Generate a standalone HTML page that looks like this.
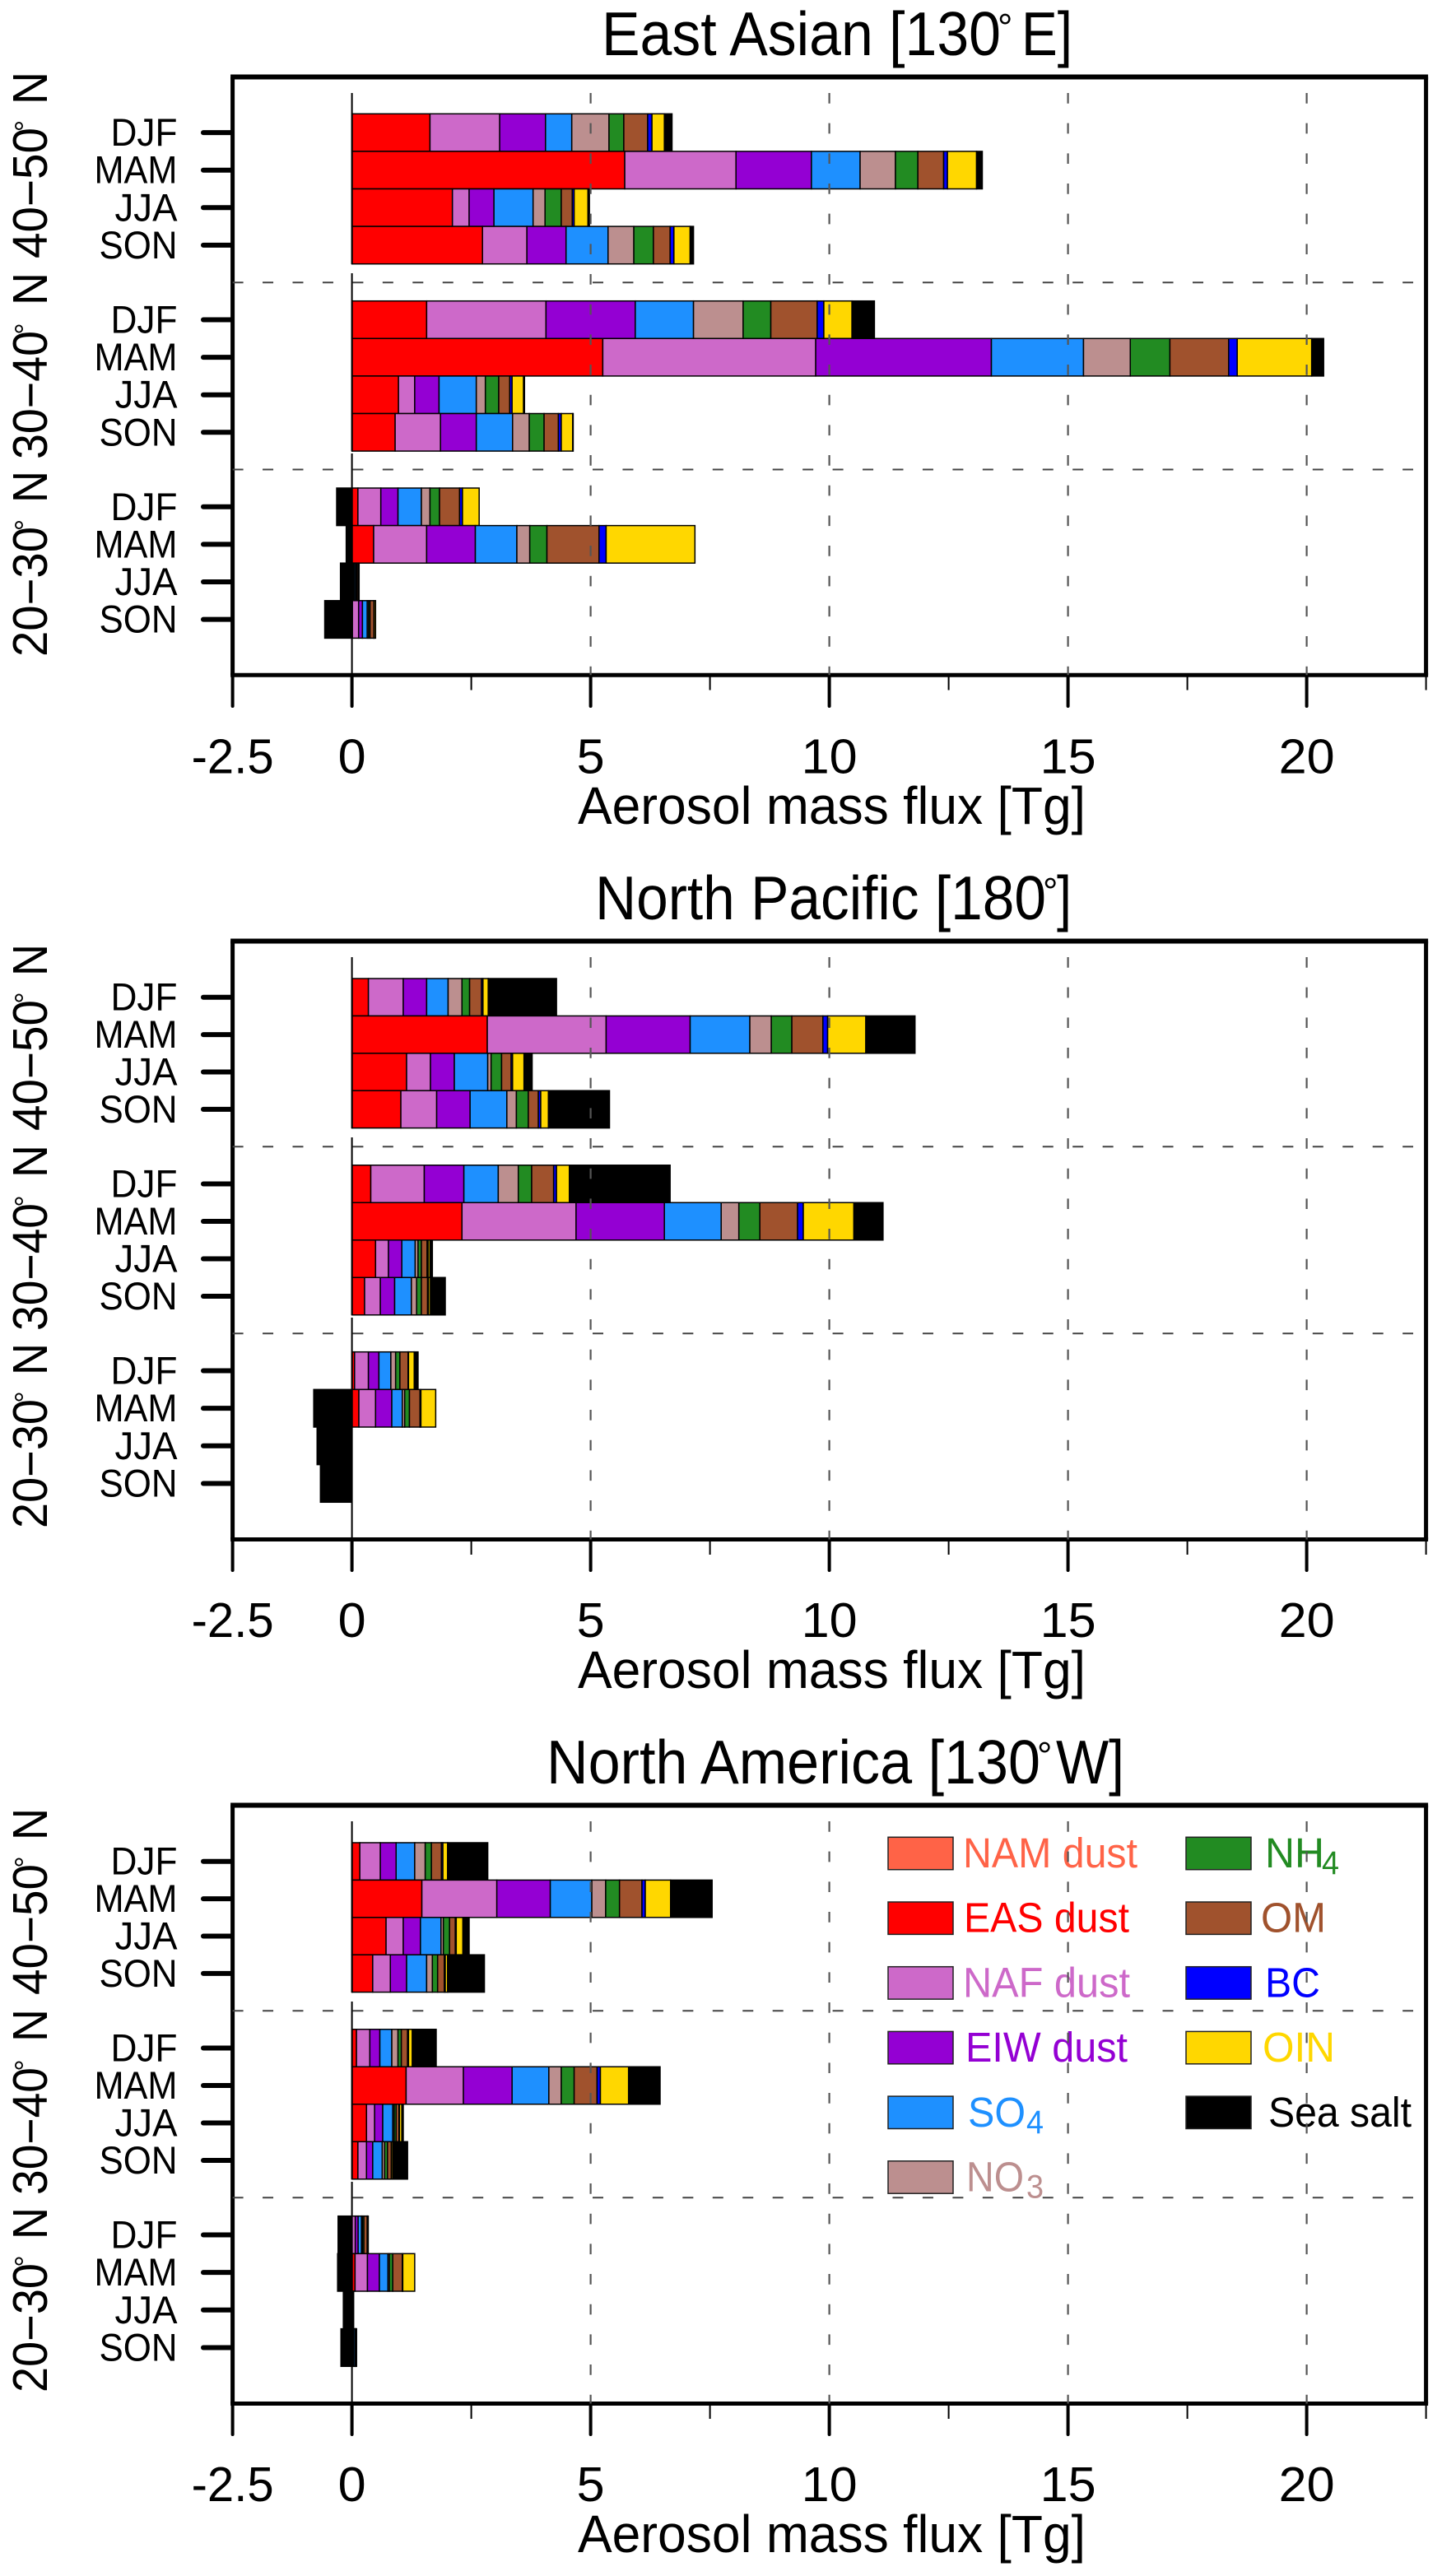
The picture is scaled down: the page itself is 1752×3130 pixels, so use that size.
<!DOCTYPE html>
<html lang="en">
<head>
<meta charset="utf-8">
<title>Aerosol mass flux</title>
<style>
html,body{margin:0;padding:0;background:#fff;width:1752px;height:3130px;overflow:hidden}
svg{display:block}
text{font-family:"Liberation Sans",Arial,sans-serif;fill:#000}
</style>
</head>
<body>
<svg id="figure" xmlns="http://www.w3.org/2000/svg" width="1752" height="3130" viewBox="0 0 1752 3130">
  <rect width="1752" height="3130" fill="#fff"/>
  <text font-size="75"><tspan x="731" y="67" textLength="485" lengthAdjust="spacingAndGlyphs">East Asian [130</tspan><tspan x="1212" y="49" font-size="46">°</tspan><tspan x="1241" y="67" textLength="62" lengthAdjust="spacingAndGlyphs">E]</tspan></text>
  <text font-size="75"><tspan x="723" y="1117" textLength="548" lengthAdjust="spacingAndGlyphs">North Pacific [180</tspan><tspan x="1267" y="1099" font-size="46">°</tspan><tspan x="1284" y="1117" textLength="18" lengthAdjust="spacingAndGlyphs">]</tspan></text>
  <text font-size="75"><tspan x="664" y="2167" textLength="600" lengthAdjust="spacingAndGlyphs">North America [130</tspan><tspan x="1260" y="2149" font-size="46">°</tspan><tspan x="1283" y="2167" textLength="83" lengthAdjust="spacingAndGlyphs">W]</tspan></text>
  <g id="panels"></g>
  <g id="overlays"></g>
</svg>
<script>
const categories = ['DJF', 'MAM', 'JJA', 'SON'];
const latitudeBands = ['40\u221250', '30\u221240', '20\u221230'];
const xMajorTicks = [-2.5, 0, 5, 10, 15, 20];
const xTickLabels = ['-2.5', '0', '5', '10', '15', '20'];
const xMinorTicks = [2.5, 7.5, 12.5, 17.5, 22.5];
const xGridValues = [5, 10, 15, 20];
const speciesNames = ['NAM dust', 'EAS dust', 'NAF dust', 'EIW dust', 'SO4', 'NO3', 'NH4', 'OM', 'BC', 'OIN', 'Sea salt'];
const speciesColors = ['#FF6347', '#FF0000', '#CD69C9', '#9400D3', '#1E90FF', '#BC8F8F', '#228B22', '#A0522D', '#0000FF', '#FFD700', '#000000'];

/* Each series: 40-50 DJF,MAM,JJA,SON | 30-40 DJF,MAM,JJA,SON | 20-30 DJF,MAM,JJA,SON (Tg) */
const eastAsianNAM = [.005,.005,.005,.005, .005,.005,.005,.005, .005,.005,.005,.005];
const eastAsianEAS = [1.63,5.71,2.10,2.73, 1.56,5.25,.97,.90, .12,.45,.01,.005];
const eastAsianNAF = [1.46,2.33,.35,.93, 2.50,4.46,.34,.95, .48,1.11,.02,.13];
const eastAsianEIW = [.96,1.58,.52,.82, 1.87,3.68,.51,.75, .36,1.02,.01,.08];
const eastAsianSO4 = [.55,1.02,.82,.88, 1.22,1.93,.78,.76, .49,.87,.03,.10];
const eastAsianNO3 = [.78,.74,.25,.54, 1.04,.98,.19,.35, .18,.27,.01,.03];
const eastAsianNH4 = [.31,.47,.34,.41, .58,.83,.28,.31, .20,.36,.02,.03];
const eastAsianOM = [.50,.54,.23,.35, .97,1.23,.23,.30, .42,1.09,.03,.08];
const eastAsianBC = [.09,.08,.04,.08, .14,.18,.05,.06, .06,.15,.005,.005];
const eastAsianOIN = [.26,.61,.29,.34, .59,1.56,.24,.24, .35,1.86,.01,.03];
const eastAsianSeaSalt = [.16,.12,.03,.07, .47,.25,.02,.01, -.32,-.12,-.24,-.57];

const pacificNAM = [.005,.005,.005,.005, .005,.005,.005,.005, .005,.005,0,0];
const pacificEAS = [.34,2.83,1.14,1.02, .39,2.30,.49,.26, .05,.14,0,0];
const pacificNAF = [.73,2.49,.50,.75, 1.12,2.39,.27,.33, .29,.35,0,0];
const pacificEIW = [.49,1.76,.50,.70, .83,1.85,.28,.30, .22,.34,0,0];
const pacificSO4 = [.45,1.25,.70,.77, .72,1.19,.28,.35, .25,.22,0,0];
const pacificNO3 = [.29,.45,.07,.20, .42,.37,.06,.11, .10,.05,0,0];
const pacificNH4 = [.16,.43,.22,.25, .28,.44,.07,.10, .09,.10,0,0];
const pacificOM = [.25,.65,.20,.21, .46,.79,.12,.13, .17,.22,0,0];
const pacificBC = [.03,.10,.03,.05, .06,.12,.02,.02, .01,.02,0,0];
const pacificOIN = [.11,.80,.24,.16, .27,1.06,.04,.04, .12,.31,0,0];
const pacificSeaSalt = [1.43,1.03,.17,1.28, 2.11,.61,.05,.31, .08,-.80,-.73,-.66];

const americaNAM = [.005,.005,.005,.005, .005,.005,.005,.005, 0,.005,0,0];
const americaEAS = [.16,1.46,.71,.43, .09,1.13,.30,.12, 0,.06,.005,.01];
const americaNAF = [.43,1.57,.36,.37, .28,1.20,.17,.18, .07,.26,.005,.01];
const americaEIW = [.33,1.12,.36,.34, .21,1.02,.17,.13, .06,.25,.005,.01];
const americaSO4 = [.39,.87,.43,.42, .25,.77,.21,.20, .07,.18,.005,.03];
const americaNO3 = [.22,.29,.05,.12, .13,.26,.03,.05, .02,.03,.003,.005];
const americaNH4 = [.13,.29,.13,.11, .07,.27,.04,.06, .03,.07,.003,.01];
const americaOM = [.21,.47,.12,.14, .13,.48,.06,.08, .07,.20,.005,.01];
const americaBC = [.03,.07,.02,.02, .02,.07,.01,.01, .002,.01,.001,.002];
const americaOIN = [.10,.53,.14,.05, .08,.59,.05,.03, .02,.25,.003,.01];
const americaSeaSalt = [.84,.87,.13,.77, .50,.66,.03,.30, -.29,-.30,-.18,-.23];

const NS = 'http://www.w3.org/2000/svg';
const X0 = 427.6;
const X_UNIT = 58;
const xScale = v => X0 + v * X_UNIT;

const panelLayouts = [
  { slug: 'east-asian', series: [eastAsianNAM, eastAsianEAS, eastAsianNAF, eastAsianEIW, eastAsianSO4, eastAsianNO3, eastAsianNH4, eastAsianOM, eastAsianBC, eastAsianOIN, eastAsianSeaSalt],
    top: 93.5, bottom: 820.2, gridTop: 113, tickMinor: 838.5, tickMajor: 858, labelBase: 939.5, labelSize: 59, titleBase: 1001,
    groupFirst: [161.1, 388.5, 615.8], groupStep: [45.6, 45.6, 45.6], dashY: [343.3, 570.5],
    zero: [[113, 321], [332, 548], [551, 820]],
    bands: [[312, 157, 151, 123, 89], [556, 404, 397.5, 367, 333], [796, 642, 636, 607, 574]] },
  { slug: 'north-pacific', series: [pacificNAM, pacificEAS, pacificNAF, pacificEIW, pacificSO4, pacificNO3, pacificNH4, pacificOM, pacificBC, pacificOIN, pacificSeaSalt],
    top: 1143.5, bottom: 1870.5, gridTop: 1163, tickMinor: 1889, tickMajor: 1908, labelBase: 1989, labelSize: 59, titleBase: 2051,
    groupFirst: [1211.7, 1438.5, 1665.5], groupStep: [45.4, 45.5, 45.65], dashY: [1393.3, 1620.3],
    zero: [[1163, 1371], [1382, 1598], [1601, 1870]],
    bands: [[1372, 1217, 1210.5, 1182, 1149], [1615, 1464, 1457.5, 1427, 1393], [1855, 1702, 1695.5, 1667, 1634]] },
  { slug: 'north-america', series: [americaNAM, americaEAS, americaNAF, americaEIW, americaSO4, americaNO3, americaNH4, americaOM, americaBC, americaOIN, americaSeaSalt],
    top: 2193.5, bottom: 2920.5, gridTop: 2213, tickMinor: 2939, tickMajor: 2958, labelBase: 3039, labelSize: 59, titleBase: 3101,
    groupFirst: [2261.7, 2488.5, 2715.5], groupStep: [45.4, 45.5, 45.65], dashY: [2443.3, 2670.3],
    zero: [[2213, 2421], [2432, 2648], [2651, 2920]],
    bands: [[2422, 2267, 2260.5, 2232, 2199], [2665, 2514, 2507.5, 2477, 2443], [2905, 2752, 2745.5, 2717, 2684]] }
];

const seasonWidths = { DJF: 81, MAM: 101, JJA: 76, SON: 95 };

function svgEl(tag, attrs, parent, text) {
  const node = document.createElementNS(NS, tag);
  for (const k in attrs) node.setAttribute(k, attrs[k]);
  if (text !== undefined) node.textContent = text;
  parent.appendChild(node);
  return node;
}

const panelsRoot = document.getElementById('panels');
const overlayRoot = document.getElementById('overlays');

panelLayouts.forEach(p => {
  const g = svgEl('g', {}, panelsRoot);
  
  

  /* stacked bars */
  const barLayer = svgEl('g', {}, g);
  
  
  latitudeBands.forEach((band, b) => {
    categories.forEach((cat, c) => {
      const row = b * 4 + c;
      const cy = p.groupFirst[b] + c * p.groupStep[b];
      const h = p.groupStep[b];
      let pos = 0;
      let neg = 0;
      p.series.forEach((vals, s) => {
        const v = vals[row];
        let from;
        let to;
        if (v >= 0) { from = pos; to = pos + v; pos = to; }
        else { from = neg + v; to = neg; neg = from; }
        const rect = svgEl('rect', {
          x: xScale(from).toFixed(2),
          y: (cy - h / 2).toFixed(2),
          width: (xScale(to) - xScale(from)).toFixed(2),
          height: h.toFixed(2),
          fill: speciesColors[s],
          stroke: '#000',
          'stroke-width': 1.5
        }, barLayer);
        
        
      });
    });
  });

  /* zero line */
  p.zero.forEach(seg => {
    const z = svgEl('line', { x1: X0, x2: X0, y1: seg[0], y2: seg[1], stroke: '#000', 'stroke-width': 2 }, g);
    
    
  });

  /* frame */
  const frameLeft = xScale(-2.5);
  const frameRight = xScale(22.5);
  const sides = [
    [frameLeft - 2.5, p.top, frameRight + 2.5, p.top, 6],
    [frameLeft - 2.5, p.bottom, frameRight + 2.5, p.bottom, 5],
    [frameLeft, p.top, frameLeft, p.bottom, 5],
    [frameRight, p.top, frameRight, p.bottom, 5]
  ];
  sides.forEach(s => {
    const side = svgEl('line', { x1: s[0], y1: s[1], x2: s[2], y2: s[3], stroke: '#000', 'stroke-width': s[4] }, g);
    
    
  });

  /* x ticks and labels */
  xMajorTicks.forEach((t, i) => {
    const tick = svgEl('line', { x1: xScale(t), x2: xScale(t), y1: p.bottom, y2: p.tickMajor, stroke: '#000', 'stroke-width': 4, 'stroke-linecap': 'round' }, g);
    
    
    const str = xTickLabels[i];
    const w = str.length === 1 ? 34 : (str.length === 2 ? 68 : 100);
    const lab = svgEl('text', { x: (xScale(t) - w / 2).toFixed(1), y: p.labelBase, 'font-size': p.labelSize, textLength: w, lengthAdjust: 'spacingAndGlyphs' }, g, str);
    
    
  });
  xMinorTicks.forEach(t => {
    const tick = svgEl('line', { x1: xScale(t), x2: xScale(t), y1: p.bottom, y2: p.tickMinor, stroke: '#000', 'stroke-width': 2 }, g);
    
    
  });
  const xTitle = svgEl('text', { x: 702, y: p.titleBase, 'font-size': 64, textLength: 617, lengthAdjust: 'spacingAndGlyphs' }, g, 'Aerosol mass flux [Tg]');
  
  

  /* y ticks, season labels, latitude band labels */
  latitudeBands.forEach((band, b) => {
    categories.forEach((cat, c) => {
      const cy = p.groupFirst[b] + c * p.groupStep[b];
      const tick = svgEl('line', { x1: 247, x2: 282, y1: cy, y2: cy, stroke: '#000', 'stroke-width': 6, 'stroke-linecap': 'round' }, g);
      
      
      const w = seasonWidths[cat];
      const lab = svgEl('text', { x: 215.5 - w, y: (cy + 16).toFixed(1), 'font-size': 47, textLength: w, lengthAdjust: 'spacingAndGlyphs' }, g, cat);
      
      
    });
    const L = p.bands[b];
    const t = svgEl('text', { 'font-size': 59 }, g);
    
    
    svgEl('tspan', { x: 0, y: 0, textLength: L[0] - L[1] + 4, lengthAdjust: 'spacingAndGlyphs' }, t, band);
    svgEl('tspan', { x: L[0] - L[2] - 7.2, y: -14, 'font-size': 36 }, t, '\u00B0');
    svgEl('tspan', { x: L[0] - L[3] - 2, y: 0, textLength: L[3] - L[4] + 6, lengthAdjust: 'spacingAndGlyphs' }, t, 'N');
    t.setAttribute('transform', 'translate(57,' + (L[0] + 2) + ') rotate(-90)');
  });

  /* dashed guide lines, layered above bars and legend */
  xGridValues.forEach(v => {
    const gl = svgEl('line', { x1: xScale(v), x2: xScale(v), y1: p.gridTop, y2: p.bottom, stroke: '#555', 'stroke-width': 2.2, 'stroke-dasharray': '12.7 23.97' }, overlayRoot);
    
    
  });
  p.dashY.forEach(y => {
    const hl = svgEl('line', { x1: 282.6, x2: 1717, y1: y, y2: y, stroke: '#444', 'stroke-width': 2, 'stroke-dasharray': '13 23.45' }, overlayRoot);
    
    
  });
});

/* legend (north america panel) */
const legendLeft = [
  ['NAM dust', 0, 1170, 212],
  ['EAS dust', 1, 1171, 201],
  ['NAF dust', 2, 1170, 203],
  ['EIW dust', 3, 1173, 197]
];
const legendRight = [
  ['OM', 7, 1532, 79, 1],
  ['BC', 8, 1537, 67, 2],
  ['OIN', 9, 1534, 88, 3],
  ['Sea salt', 10, 1541, 174, 4]
];
const legendRoot = svgEl('g', {}, panelsRoot);


const LEGEND_TOP = 2232.3;
const LEGEND_STEP = 78.7;
function swatch(col, rowIndex, colorIndex) {
  const x = col === 0 ? 1079 : 1441;
  const y = LEGEND_TOP + rowIndex * LEGEND_STEP;
  const r = svgEl('rect', { x: x, y: y.toFixed(1), width: 79, height: 39.4, fill: speciesColors[colorIndex], stroke: '#222', 'stroke-width': 1.5 }, legendRoot);
  
  
}
function legendBase(rowIndex) {
  return LEGEND_TOP + rowIndex * LEGEND_STEP + 36.7;
}
legendLeft.forEach((e, i) => {
  swatch(0, i, e[1]);
  const t = svgEl('text', { x: e[2], y: legendBase(i).toFixed(1), 'font-size': 51, textLength: e[3], lengthAdjust: 'spacingAndGlyphs', style: 'fill:' + speciesColors[e[1]] }, legendRoot, e[0]);
  
  
});
legendRight.forEach(e => {
  swatch(1, e[4], e[1]);
  const fill = e[1] === 10 ? '#000' : speciesColors[e[1]];
  const t = svgEl('text', { x: e[2], y: legendBase(e[4]).toFixed(1), 'font-size': 51, textLength: e[3], lengthAdjust: 'spacingAndGlyphs', style: 'fill:' + fill }, legendRoot, e[0]);
  
  
});
const legendChem = [
  ['SO', '4', 4, 0, 4, 1176, 70, 1247],
  ['NO', '3', 5, 0, 5, 1174, 70, 1247],
  ['NH', '4', 6, 1, 0, 1537, 72, 1606]
];
legendChem.forEach(e => {
  swatch(e[3], e[4], e[2]);
  const base = legendBase(e[4]);
  const t = svgEl('text', { 'font-size': 51, style: 'fill:' + speciesColors[e[2]] }, legendRoot);
  
  
  svgEl('tspan', { x: e[5], y: base.toFixed(1), textLength: e[6], lengthAdjust: 'spacingAndGlyphs' }, t, e[0]);
  svgEl('tspan', { x: e[7], y: (base + 8).toFixed(1), 'font-size': 40, textLength: 21, lengthAdjust: 'spacingAndGlyphs' }, t, e[1]);
});
</script>
</body>
</html>
